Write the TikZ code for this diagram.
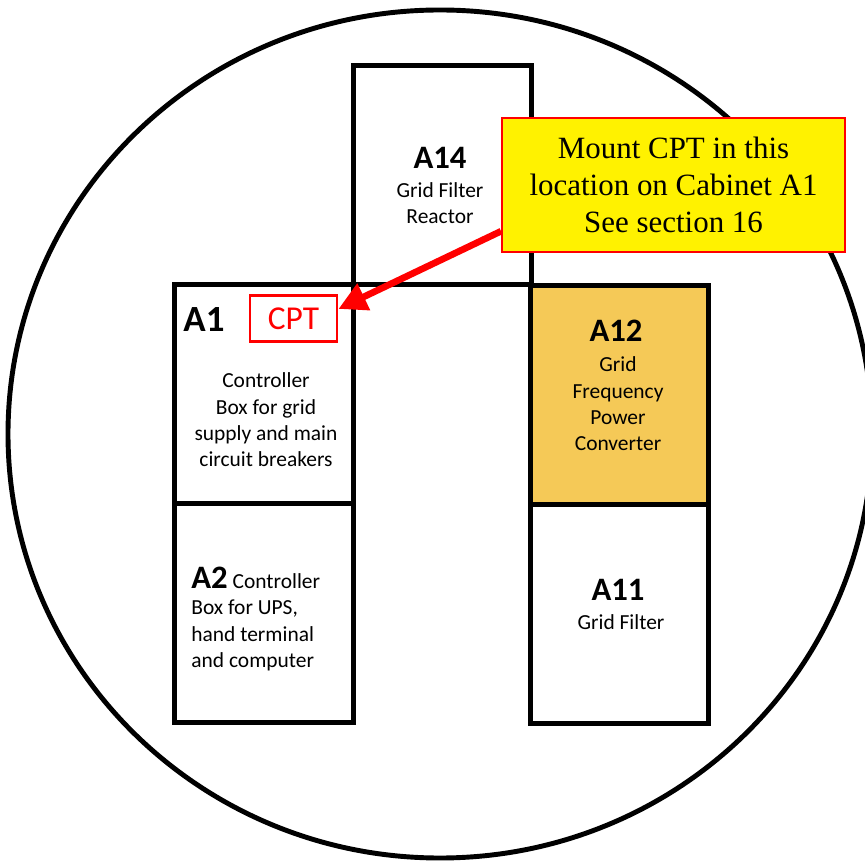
\documentclass[tikz,border=0pt]{standalone}
\usepackage{fontspec}
\setmainfont{Carlito}
\newfontfamily\notefont{Liberation Serif}
\usetikzlibrary{positioning,arrows.meta}

\definecolor{cabgold}{RGB}{245,201,87}

\tikzset{
  cabinet/.style={draw, line width=1.4pt, inner sep=0pt, outer sep=0pt,
    minimum width=1.78cm, minimum height=2.19cm},
  cabname/.style={font=\fontsize{9.3}{11}\selectfont\bfseries},
  cabtext/.style={font=\fontsize{6.1}{7.5}\selectfont, align=center},
}

\begin{document}
\begin{tikzpicture}[x=0.01cm, y=-0.01cm]
\useasboundingbox[fill=white] (0,0) rectangle (865,865);

% outline of the tower
\draw[line width=1.4pt] (440,434) ellipse [x radius=432, y radius=424];

% cabinets
\node[cabinet] (a1) at (264,394) {};
\node[cabinet, below=0pt of a1] (a2) {};
\node[cabinet, fill=cabgold] (a12) at (619.5,395) {};
\node[cabinet, below=0pt of a12] (a11) {};
\node[cabinet, anchor=south west] (a14) at (a1.north east) {};

% labels
\node[cabname] (a14name) at (440,158) {A14};
\node[cabtext] (a14text) at (440,203) {Grid Filter\\Reactor};

\node[font=\fontsize{10.5}{12}\selectfont\bfseries, anchor=west] (a1name) at (171,320) {A1};
\node[draw=red, text=red, line width=0.8pt, minimum width=0.87cm, minimum height=0.45cm,
  font=\fontsize{9.5}{11}\selectfont] (cpt) at (293.5,318.5) {CPT};
\node[cabtext] (a1text) at (266,420) {Controller\\Box for grid\\supply and main\\circuit breakers};

\node[cabname] (a12name) at (616,331) {A12};
\node[cabtext] (a12text) at (618,404) {Grid\\Frequency\\Power\\Converter};

\node[cabtext, align=left, anchor=west] (a2text) at (179,619)
  {{\fontsize{9.3}{11}\selectfont\bfseries A2} Controller\\Box for UPS,\\hand terminal\\and computer};

\node[cabname] (a11name) at (618,590) {A11};
\node[cabtext] (a11text) at (621,622) {Grid Filter};

% callout
\node[fill=yellow, draw=red, line width=0.5pt, minimum width=3.43cm, minimum height=1.34cm,
  align=center, font=\notefont\fontsize{8.8}{10.5}\selectfont] (note) at (673.5,185)
  {Mount CPT in this\\location on Cabinet A1\\See section 16};

\draw[red, line width=1.9pt, -{Triangle[length=8pt, width=8pt]}] (note.195) -- (cpt.12);
\end{tikzpicture}
\end{document}
